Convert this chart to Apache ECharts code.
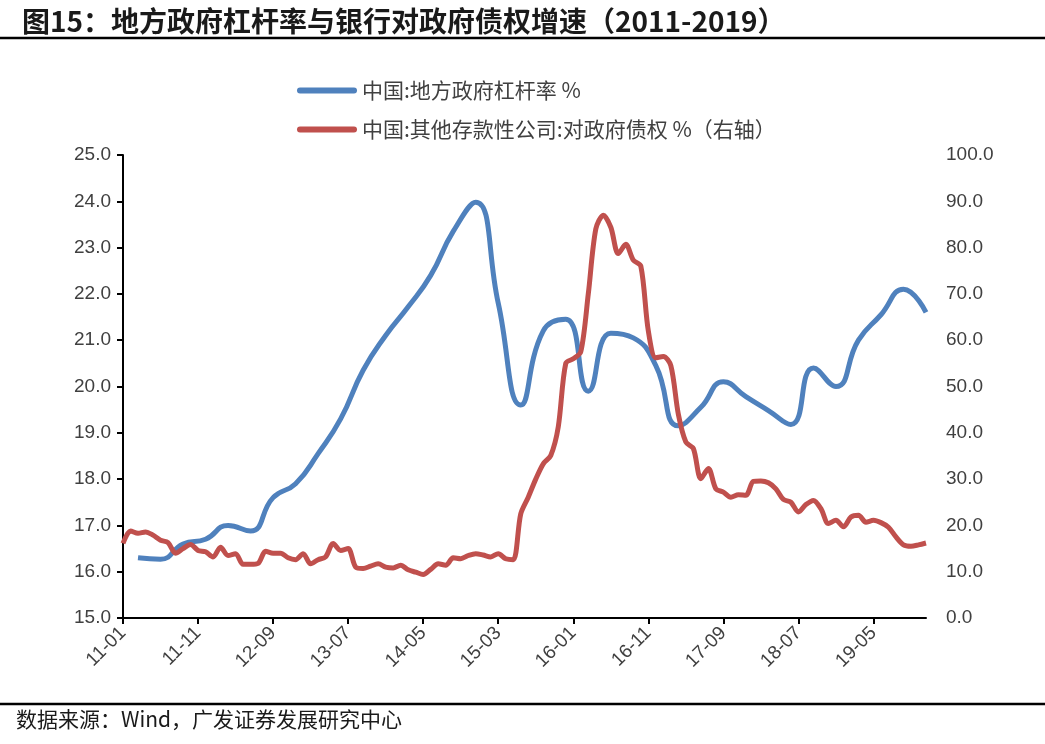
<!DOCTYPE html>
<html>
<head>
<meta charset="utf-8">
<script src="https://cdn.jsdelivr.net/npm/echarts@6/dist/echarts.min.js"></script>
<style>html,body{margin:0;padding:0;background:#fff;}#c{width:1045px;height:744px;}</style>
</head>
<body>
<div id="c"></div>
<script>
// Monthly categories 2011-01 .. 2019-12
var categories = [];
for (var y = 11; y <= 19; y++) { for (var m = 1; m <= 12; m++) { categories.push(y + '-' + (m < 10 ? '0' + m : m)); } }

// 中国:地方政府杠杆率 % (quarterly, placed at quarter-end months)
var leverageQuarters = ['11-03','11-06','11-09','11-12','12-03','12-06','12-09','12-12','13-03','13-06','13-09','13-12','14-03','14-06','14-09','14-12','15-03','15-06','15-09','15-12','16-03','16-06','16-09','16-12','17-03','17-06','17-09','17-12','18-03','18-06','18-09','18-12','19-03','19-06','19-09','19-12'];
var leverageValues = [16.30,16.27,16.60,16.70,17.00,16.88,17.60,17.90,18.55,19.30,20.35,21.10,21.72,22.40,23.35,23.98,21.80,19.60,21.20,21.45,19.90,21.15,21.05,20.45,19.15,19.55,20.10,19.78,19.48,19.18,20.40,20.00,21.00,21.55,22.10,21.60];

// 中国:其他存款性公司:对政府债权 % (monthly, right axis)
var claimsValues = [16.1,18.8,18.3,18.6,17.9,16.8,16.3,14.0,15.0,15.9,14.6,14.3,
 13.2,15.3,13.5,13.9,11.6,11.6,11.8,14.4,14.0,14.0,13.0,12.6,
 13.9,11.7,12.6,13.2,16.1,14.6,15.0,11.0,10.7,11.2,11.7,11.0,
 10.8,11.4,10.4,9.9,9.4,10.5,11.7,11.4,13.0,12.8,13.5,13.9,
 13.6,13.2,13.9,12.8,12.6,22.5,26.1,30.0,33.3,35.1,41.3,55.0,
 56.0,57.5,70.0,84.0,87.0,84.4,78.7,80.7,77.3,76.0,62.0,56.2,
 56.5,54.5,44.0,38.0,36.6,30.1,32.3,27.9,27.2,26.1,26.6,26.5,
 29.5,29.6,29.2,27.9,25.6,25.0,22.9,24.5,25.4,23.6,20.4,21.1,
 19.7,21.8,22.2,20.7,21.1,20.6,19.6,17.5,15.8,15.5,15.8,16.2];

var leftTicks = {min: 15, max: 25, interval: 1};
var rightTicks = {min: 0, max: 100, interval: 10};

var leverageSeries = categories.map(function (c) {
  var i = leverageQuarters.indexOf(c);
  return i >= 0 ? leverageValues[i] : null;
});

var txt = '#404040';
var numFont = 'Liberation Sans';
var cjkFont = 'Noto Sans CJK SC';
var chart = echarts.init(document.getElementById('c'));
chart.setOption({
  animation: false,
  backgroundColor: '#fff',
  title: {
    text: '图15：地方政府杠杆率与银行对政府债权增速（2011-2019）',
    left: 17, top: 2,
    textStyle: {fontSize: 28, fontWeight: 'bold', color: '#1a1a1a', fontFamily: cjkFont}
  },
  graphic: [
    {type: 'line', shape: {x1: 0, y1: 38, x2: 1045, y2: 38}, style: {stroke: '#000', lineWidth: 2.5}},
    {type: 'line', shape: {x1: 0, y1: 704, x2: 1045, y2: 704}, style: {stroke: '#000', lineWidth: 2.5}},
    {type: 'text', left: 16, top: 709, style: {text: '数据来源：Wind，广发证券发展研究中心', fontSize: 21, fill: '#1a1a1a', fontFamily: cjkFont}}
  ],
  legend: {
    orient: 'vertical', left: 292, top: 75, itemWidth: 60, itemHeight: 14, itemGap: 18,
    textStyle: {fontSize: 21, color: txt, fontFamily: cjkFont},
    data: [
      {name: '中国:地方政府杠杆率 %', icon: 'path://M3,0 L57,0 A3,3 0 0 1 57,6 L3,6 A3,3 0 0 1 3,0 Z'},
      {name: '中国:其他存款性公司:对政府债权 %（右轴）', icon: 'path://M3,0 L57,0 A3,3 0 0 1 57,6 L3,6 A3,3 0 0 1 3,0 Z'}
    ]
  },
  grid: {left: 123, right: 119, top: 155, bottom: 126, containLabel: false},
  xAxis: {
    type: 'category', data: categories, boundaryGap: false,
    axisLine: {lineStyle: {color: '#000', width: 2}},
    axisTick: {interval: 9, length: 6, lineStyle: {color: '#000', width: 2}},
    axisLabel: {interval: 9, rotate: 45, fontSize: 19, color: txt, margin: 12, fontFamily: numFont}
  },
  yAxis: [
    {type: 'value', min: leftTicks.min, max: leftTicks.max, interval: leftTicks.interval,
     axisLine: {show: true, lineStyle: {color: '#000', width: 2}},
     axisTick: {show: true, length: 6, lineStyle: {color: '#000', width: 2}},
     splitLine: {show: false},
     axisLabel: {fontSize: 19, color: txt, margin: 12, fontFamily: numFont, formatter: function (v) { return v.toFixed(1); }}},
    {type: 'value', min: rightTicks.min, max: rightTicks.max, interval: rightTicks.interval,
     axisLine: {show: false}, axisTick: {show: false}, splitLine: {show: false},
     axisLabel: {fontSize: 19, color: txt, margin: 20, fontFamily: numFont, formatter: function (v) { return v.toFixed(1); }}}
  ],
  series: [
    {name: '中国:地方政府杠杆率 %', type: 'line', data: leverageSeries, connectNulls: true, smooth: 0.5,
     showSymbol: false, symbol: 'none', itemStyle: {color: '#4F81BD'}, lineStyle: {color: '#4F81BD', width: 5}},
    {name: '中国:其他存款性公司:对政府债权 %（右轴）', type: 'line', yAxisIndex: 1, data: claimsValues, smooth: 0.3,
     showSymbol: false, symbol: 'none', itemStyle: {color: '#C0504D'}, lineStyle: {color: '#C0504D', width: 5}}
  ]
});
</script>
</body>
</html>
